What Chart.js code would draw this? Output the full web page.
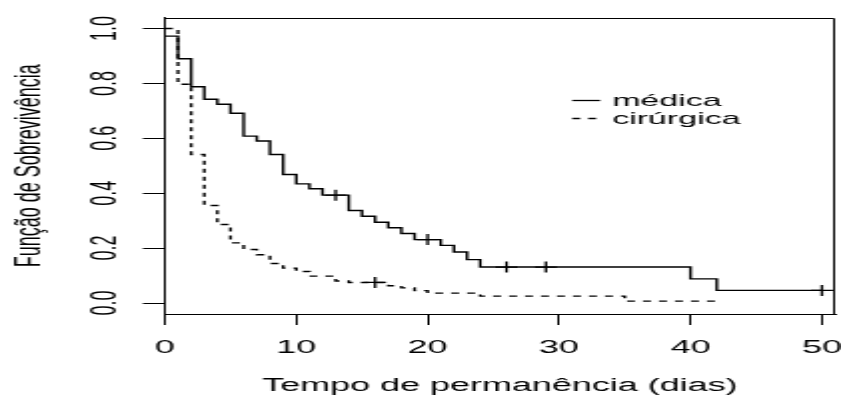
<!DOCTYPE html>
<html>
<head>
<meta charset="utf-8">
<script src="https://cdn.jsdelivr.net/npm/chart.js@4.4.1/dist/chart.umd.min.js"></script>
<style>
  html, body { margin: 0; padding: 0; background: #fff; overflow: hidden; }
  /* o gráfico original foi esticado na horizontal (~2x) */
  #wrap { width: 421px; height: 403px; transform: scaleX(1.99762); transform-origin: 0 0; }
</style>
</head>
<body>
<div id="wrap"><canvas id="km" width="421" height="403"></canvas></div>
<script>
// Curva médica (linha cheia)
const medicaTempo  = [0, 1, 2, 3, 4, 5, 6, 7, 8, 9, 10, 11, 12, 14, 15, 16, 17, 18, 19, 21, 22, 23, 24, 40, 42, 50];
const medicaSobrev = [0.972, 0.890, 0.788, 0.742, 0.724, 0.691, 0.608, 0.590, 0.541, 0.468, 0.434, 0.416, 0.393,
                      0.337, 0.316, 0.294, 0.274, 0.253, 0.231, 0.210, 0.186, 0.158, 0.131, 0.088, 0.046, 0.046];
const medicaCensTempo  = [13, 20, 26, 29, 50];
const medicaCensSobrev = [0.393, 0.231, 0.131, 0.131, 0.046];

// Curva cirúrgica (tracejada)
const cirurgTempo  = [0, 1, 2, 3, 4, 5, 6, 7, 8, 9, 10, 11, 13, 14, 17, 18, 19, 20, 24, 35, 42];
const cirurgSobrev = [1.0, 0.797, 0.541, 0.355, 0.286, 0.219, 0.195, 0.176, 0.144, 0.127, 0.115, 0.098, 0.080,
                      0.075, 0.063, 0.055, 0.045, 0.036, 0.025, 0.007, 0.0];
const cirurgCensTempo  = [16];
const cirurgCensSobrev = [0.075];

const xTicks = [0, 10, 20, 30, 40, 50];
const yTicks = [0.0, 0.2, 0.4, 0.6, 0.8, 1.0];

const FONT = "'Liberation Sans', Arial, sans-serif";

function pts(tt, ss) {
    return tt.map((t, i) => ({ x: t, y: ss[i] }));
}

// lados de cima e da direita da caixa (os eixos fazem os outros dois)
const boxPlugin = {
    id: 'box',
    afterDatasetsDraw(chart) {
        const { ctx, chartArea: a } = chart;
        const l = Math.round(a.left), r = Math.round(a.right) - 0.5, t = Math.round(a.top) + 0.5;
        ctx.save();
        ctx.strokeStyle = '#000';
        ctx.lineWidth = 1;
        ctx.beginPath();
        ctx.moveTo(l, t);
        ctx.lineTo(r, t);
        ctx.lineTo(r, Math.round(a.bottom));
        ctx.stroke();
        ctx.restore();
    }
};

// legenda dentro do gráfico
const legendPlugin = {
    id: 'rLegend',
    afterDatasetsDraw(chart) {
        const { ctx, scales: { x, y } } = chart;
        const x0 = x.getPixelForValue(31);
        const y0 = y.getPixelForValue(0.738);
        ctx.save();
        ctx.font = '17px ' + FONT;
        ctx.textBaseline = 'middle';
        ctx.fillStyle = '#000';
        chart.data.datasets.slice(0, 2).forEach((ds, i) => {
            const yy = Math.round(y0 + i * 17.3) + 0.5;
            ctx.strokeStyle = '#000';
            ctx.lineWidth = 1.3;
            ctx.setLineDash(ds.borderDash || []);
            ctx.beginPath();
            ctx.moveTo(x0, yy);
            ctx.lineTo(x0 + 14, yy);
            ctx.stroke();
            ctx.fillText(ds.label, x0 + 20, yy + 1);
        });
        ctx.restore();
    }
};

const ctx = document.getElementById('km').getContext('2d');
new Chart(ctx, {
    type: 'line',
    data: {
        datasets: [
            {
                label: 'médica',
                data: pts(medicaTempo, medicaSobrev),
                stepped: true,
                borderColor: '#000',
                borderWidth: 1.4,
                pointRadius: 0,
                fill: false
            },
            {
                label: 'cirúrgica',
                data: pts(cirurgTempo, cirurgSobrev),
                stepped: true,
                borderColor: '#000',
                borderWidth: 1.4,
                borderDash: [4, 4],
                pointRadius: 0,
                fill: false
            },
            {
                label: 'censura médica',
                data: pts(medicaCensTempo, medicaCensSobrev),
                showLine: false,
                pointStyle: 'cross',
                pointRadius: 5.5,
                pointBorderWidth: 1.3,
                borderColor: '#000'
            },
            {
                label: 'censura cirúrgica',
                data: pts(cirurgCensTempo, cirurgCensSobrev),
                showLine: false,
                pointStyle: 'cross',
                pointRadius: 5.5,
                pointBorderWidth: 1.3,
                borderColor: '#000'
            }
        ]
    },
    options: {
        responsive: false,
        animation: false,
        devicePixelRatio: 1,
        layout: { autoPadding: false, padding: { top: 17.5, right: 3, left: 0, bottom: 0 } },
        plugins: {
            legend: { display: false },
            tooltip: { enabled: false }
        },
        scales: {
            x: {
                type: 'linear',
                min: 0,
                max: 51,
                afterBuildTicks: s => { s.ticks = xTicks.map(v => ({ value: v })); },
                afterFit: s => { s.height = 89; s.paddingLeft = 0; s.paddingRight = 0; },
                grid: { display: true, drawOnChartArea: false, tickLength: 11, color: '#000', lineWidth: 1 },
                border: { display: true, color: '#000', width: 1 },
                ticks: {
                    color: '#000', autoSkip: false, maxRotation: 0, padding: 12,
                    font: { family: FONT, size: 18 }
                },
                title: {
                    display: true, text: 'Tempo de permanência (dias)', color: '#000',
                    font: { family: FONT, size: 18 }, padding: { top: 0, bottom: 6 }
                }
            },
            y: {
                type: 'linear',
                min: -0.04,
                max: 1.04,
                afterBuildTicks: s => { s.ticks = yTicks.map(v => ({ value: v })); },
                afterFit: s => { s.width = 82.5; s.paddingTop = 0; s.paddingBottom = 0; },
                grid: { display: true, drawOnChartArea: false, tickLength: 11, color: '#000', lineWidth: 1 },
                border: { display: true, color: '#000', width: 1 },
                ticks: {
                    color: '#000', autoSkip: false, minRotation: 90, maxRotation: 90,
                    crossAlign: 'center', padding: 6,
                    font: { family: FONT, size: 18 },
                    callback: v => v.toFixed(1)
                },
                title: {
                    display: true, text: 'Função de Sobrevivência', color: '#000',
                    font: { family: FONT, size: 18 }, padding: { top: 4, bottom: 0 }
                }
            }
        }
    },
    plugins: [boxPlugin, legendPlugin]
});
</script>
</body>
</html>
